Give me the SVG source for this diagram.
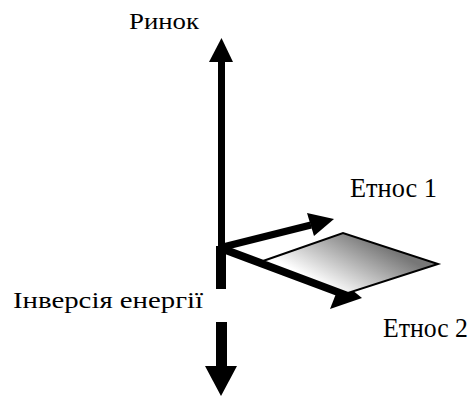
<svg xmlns="http://www.w3.org/2000/svg" width="472" height="396" viewBox="0 0 472 396">
<style>
text{font-family:'Liberation Serif','Times New Roman',serif;fill:#000}
.blk{fill:#000}
.shaft{stroke:#000;fill:none}
</style>
<defs>
<linearGradient id="pg" gradientUnits="userSpaceOnUse" x1="335" y1="292" x2="365" y2="236">
<stop offset="0" stop-color="#ffffff"/>
<stop offset="1" stop-color="#777777"/>
</linearGradient>
</defs>
<rect width="472" height="396" fill="#fff"/>
<g id="connectors">
<g id="axis-up">
<rect class="blk" x="218" y="60" width="7" height="187"/>
<polygon class="blk" points="209,62 233,62 221.5,38"/>
</g>
<g id="axis-down">
<rect class="blk" x="216" y="246" width="10" height="43"/>
<rect class="blk" x="216" y="322" width="11" height="45"/>
<polygon class="blk" points="205,366 237,366 221,396"/>
</g>
<g id="arrow-ethnos1">
<line class="shaft" x1="223" y1="247" x2="311" y2="225" stroke-width="7"/>
<polygon class="blk" points="307,213 334,219 314,236"/>
</g>
<g id="arrow-ethnos2">
<line class="shaft" x1="223" y1="249" x2="338" y2="292" stroke-width="8"/>
<polygon class="blk" points="341,281 362,298 330,309"/>
</g>
</g>
<g id="plane">
<polygon points="263,261 343,233 438,264 348,293" fill="url(#pg)" stroke="#000" stroke-width="2"/>
</g>
<g id="label-market"><text x="129" y="29" font-size="24" textLength="70" lengthAdjust="spacingAndGlyphs">Ринок</text></g>
<g id="label-ethnos1"><text x="350" y="197" font-size="27" textLength="87" lengthAdjust="spacingAndGlyphs">Етнос 1</text></g>
<g id="label-inversion"><text x="13" y="308" font-size="24" textLength="190" lengthAdjust="spacingAndGlyphs">Інверсія енергії</text></g>
<g id="label-ethnos2"><text x="383" y="337" font-size="27" textLength="85" lengthAdjust="spacingAndGlyphs">Етнос 2</text></g>
</svg>
